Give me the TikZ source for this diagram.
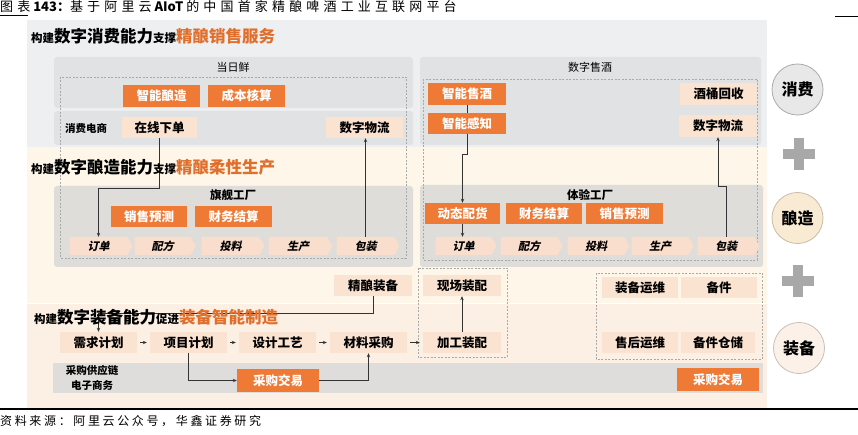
\documentclass[tikz,border=0pt]{standalone}
\usepackage{fontspec}
\setmainfont{Noto Sans CJK SC}
\usetikzlibrary{arrows.meta,shapes.symbols}
\definecolor{orng}{HTML}{EE7A36}
\definecolor{orngtxt}{HTML}{E06F2C}
\definecolor{peach}{HTML}{FBE3D1}
\definecolor{chev}{HTML}{F9DECD}
\definecolor{bgA}{HTML}{EEEFF1}
\definecolor{bgB}{HTML}{FDF6E9}
\definecolor{bgC}{HTML}{FCEFE4}
\definecolor{subA}{HTML}{E1E2E4}
\definecolor{subB}{HTML}{DEDDD9}
\definecolor{stripc}{HTML}{DEDDDB}
\definecolor{dashcol}{HTML}{A9A9A9}
\definecolor{plusc}{HTML}{A8A8A8}
\definecolor{lineC}{HTML}{333333}
\definecolor{cAf}{HTML}{E8E8E8}
\definecolor{cAd}{HTML}{ABABAB}
\definecolor{cBf}{HTML}{F9EBD3}
\definecolor{cBd}{HTML}{C9BCA6}
\definecolor{cCf}{HTML}{FBF1E8}
\definecolor{cCd}{HTML}{C8C0B8}
\newcommand\hdline[4]{\bfseries{\fontsize{11.5}{11}\selectfont #1}{\fontsize{16.5}{17}\selectfont #2}{\fontsize{11.5}{11}\selectfont #3}{\fontsize{16.5}{17}\selectfont\color{orngtxt}#4}}
\tikzset{
  obox/.style={fill=orng, text=white, font=\fontsize{12.5}{13}\selectfont\bfseries, inner sep=0, minimum height=22},
  pbox/.style={fill=peach, text=black, font=\fontsize{12.5}{13}\selectfont\bfseries, inner sep=0, minimum height=21},
  chv/.style={signal, signal to=east, signal from=nowhere, signal pointer angle=120, fill=chev, draw=none, font=\fontsize{11}{11}\selectfont\bfseries\addfontfeature{FakeSlant=0.22}, inner sep=0, minimum height=18},
  arr/.style={draw=lineC, line width=0.7, -{Stealth[length=4,width=3.4]}},
  ln/.style={draw=lineC, line width=0.7},
  dbox/.style={draw=dashcol, dash pattern=on 2pt off 1.5pt, line width=0.6},
  circ/.style={circle, minimum size=51, line width=0.8, inner sep=0, font=\fontsize{16}{16}\selectfont\bfseries},
  lbl/.style={inner sep=0, font=\fontsize{11}{12}\selectfont},
  hd/.style={inner sep=0, anchor=west}
}
\begin{document}
\begin{tikzpicture}[x=1pt,y=-1pt]
\useasboundingbox (0,0) rectangle (858,435);
\clip (0,0) rectangle (858,435);
% backgrounds
\fill[white] (0,0) rectangle (858,435);
\fill[bgA] (27,20) rectangle (767,147);
\fill[bgB] (27,147) rectangle (767,303);
\fill[bgC] (27,304) rectangle (767,408);
\fill[subA, rounded corners=3] (54,57) rectangle (413,108);
\fill[subA, rounded corners=3] (54,111) rectangle (413,145);
\fill[subA, rounded corners=3] (420,57) rectangle (761,145);
\fill[subB, rounded corners=3] (54,186) rectangle (413,267);
\fill[subB, rounded corners=3] (420,185) rectangle (763,267);
\fill[stripc] (53,363) rectangle (763,393);
% dashed frames
\draw[dbox] (60,77) rectangle (406,258);
\draw[dbox] (423,79) rectangle (757,260);
\draw[dbox] (418,268) rectangle (507,357);
\draw[dbox] (596,273) rectangle (762,359);
% title and source
\node[anchor=west, inner sep=0, font=\fontsize{13}{13}\selectfont] (title) at (0,7)
  {{\addfontfeature{LetterSpace=32}图表} {\bfseries 143：}{\addfontfeature{LetterSpace=32}基于阿里云} {\bfseries AIoT} {\addfontfeature{LetterSpace=32}的中国首家精酿啤酒工业互联网平台}};
\coordinate (ulA) at (0,15.5);
\coordinate (ulB) at (28,15.5);
\draw[line width=0.8] (ulA) -- (ulB);
\coordinate (urA) at (835,16);
\coordinate (urB) at (858,16);
\draw[line width=0.8] (urA) -- (urB);
\coordinate (blA) at (0,409);
\coordinate (blB) at (858,409);
\draw[line width=1.1] (blA) -- (blB);
\node[anchor=west, inner sep=0, font=\fontsize{12}{12}\selectfont] (src) at (0,421)
  {\addfontfeature{LetterSpace=22}资料来源：阿里云公众号，华鑫证券研究};
% panel labels
\node[lbl] (t1) at (233,67) {当日鲜};
\node[lbl] (t2) at (590,67) {数字售酒};
\node[lbl, font=\fontsize{10.5}{11}\selectfont\bfseries] (t3) at (86,128) {消费电商};
\node[lbl, font=\fontsize{11.5}{12}\selectfont\bfseries] (t4) at (233,195) {旗舰工厂};
\node[lbl, font=\fontsize{11.5}{12}\selectfont\bfseries] (t5) at (590,195) {体验工厂};
\node[lbl, font=\fontsize{10.5}{15}\selectfont\bfseries, align=center] (t6) at (92,378) {采购供应链\\电子商务};
% orange boxes
\node[obox, minimum width=77] (zn) at (161.5,96) {智能酿造};
\node[obox, minimum width=77] (cb) at (246.5,96) {成本核算};
\node[obox, minimum width=78] (zs) at (467,94) {智能售酒};
\node[obox, minimum width=78, minimum height=21] (zg) at (467,123.5) {智能感知};
\node[obox, minimum width=76, minimum height=21] (xy1) at (149,216.5) {销售预测};
\node[obox, minimum width=77, minimum height=21] (cw1) at (233.5,216.5) {财务结算};
\node[obox, minimum width=75, minimum height=21] (dt) at (462.5,213.5) {动态配货};
\node[obox, minimum width=76, minimum height=21] (cw2) at (544,213.5) {财务结算};
\node[obox, minimum width=77, minimum height=21] (xy2) at (624.5,213.5) {销售预测};
\node[obox, minimum width=82, minimum height=23] (cg1) at (278,380.5) {采购交易};
\node[obox, minimum width=82, minimum height=23] (cg2) at (718,379.5) {采购交易};
% peach boxes
\node[pbox, minimum width=75] (zx) at (159.5,127.5) {在线下单};
\node[pbox, minimum width=77] (wl1) at (364.5,127.5) {数字物流};
\node[pbox, minimum width=77, minimum height=22] (jt) at (718.5,94) {酒桶回收};
\node[pbox, minimum width=78, minimum height=22] (wl2) at (718,126) {数字物流};
\node[pbox, minimum width=78] (jn) at (373,285.5) {精酿装备};
\node[pbox, minimum width=78] (xc) at (462,285.5) {现场装配};
\node[pbox, minimum width=78] (jg) at (462,342.5) {加工装配};
\node[pbox, minimum width=76] (zy) at (640,287.5) {装备运维};
\node[pbox, minimum width=76] (bj) at (719,287.5) {备件};
\node[pbox, minimum width=76] (sh) at (640,342.5) {售后运维};
\node[pbox, minimum width=74] (bc) at (718,342.5) {备件仓储};
\node[pbox, minimum width=77] (xq) at (98.5,342.5) {需求计划};
\node[pbox, minimum width=77] (xm) at (188.5,342.5) {项目计划};
\node[pbox, minimum width=77] (sj) at (277.5,342.5) {设计工艺};
\node[pbox, minimum width=77] (cl) at (368.5,342.5) {材料采购};
% chevrons
\node[chv, minimum width=63] (d1) at (98.5,246) {订单};
\node[chv, minimum width=61] (p1) at (162.5,246) {配方};
\node[chv, minimum width=63] (f1) at (230.5,246) {投料};
\node[chv, minimum width=64] (s1) at (298,246) {生产};
\node[chv, minimum width=63] (b1) at (365.5,246) {包装};
\node[chv, minimum width=61] (d2) at (463.5,246) {订单};
\node[chv, minimum width=62] (p2) at (529,246) {配方};
\node[chv, minimum width=62] (f2) at (596,246) {投料};
\node[chv, minimum width=62] (s2) at (660,246) {生产};
\node[chv, minimum width=62] (b2) at (726,246) {包装};
% connectors
\draw[arr] (zx.south) -- ++(0,50) -| (d1.north);
\draw[arr] (b1.north) -- (b1.north |- wl1.south);
\draw[ln] (zs.south) -- (zg.north);
\draw[arr] (zg.south) -- ++(0,20) -| (dt.north);
\draw[arr] (dt.south) -- (dt.south |- d2.north);
\draw[arr] (b2.north) -- ++(0,-50) -| (wl2.south);
\draw[arr] (jn.south) -- ++(0,17) -| (xq.north);
\draw[arr] (jg.north) -- (xc.south);
\draw[arr, shorten <=3, shorten >=3] (xq.east) -- (xm.west);
\draw[arr, shorten <=3, shorten >=3] (xm.east) -- (sj.west);
\draw[arr, shorten <=3, shorten >=3] (sj.east) -- (cl.west);
\draw[arr, shorten <=3, shorten >=3] (cl.east) -- (jg.west);
\draw[arr] (xm.south) |- (cg1.west);
\draw[arr] (cg1.east) -| (cl.south);
% headings
\node[hd] (h1) at (31,36) {\hdline{构建}{数字消费能力}{支撑}{精酿销售服务}};
\node[hd] (h2) at (31,167) {\hdline{构建}{数字酿造能力}{支撑}{精酿柔性生产}};
\node[hd] (h3) at (34,317) {\hdline{构建}{数字装备能力}{促进}{装备智能制造}};
% right column
\node[circ, fill=cAf, draw=cAd] (c1) at (797.5,89.5) {消费};
\node[circ, fill=cBf, draw=cBd] (c2) at (797.5,218) {酿造};
\node[circ, fill=cCf, draw=cCd] (c3) at (799,348) {装备};
\fill[plusc] (783,149) rectangle (815,159);
\fill[plusc] (794,138) rectangle (804,170);
\fill[plusc] (782,276) rectangle (814,286);
\fill[plusc] (793,265) rectangle (803,297);
\end{tikzpicture}
\end{document}
